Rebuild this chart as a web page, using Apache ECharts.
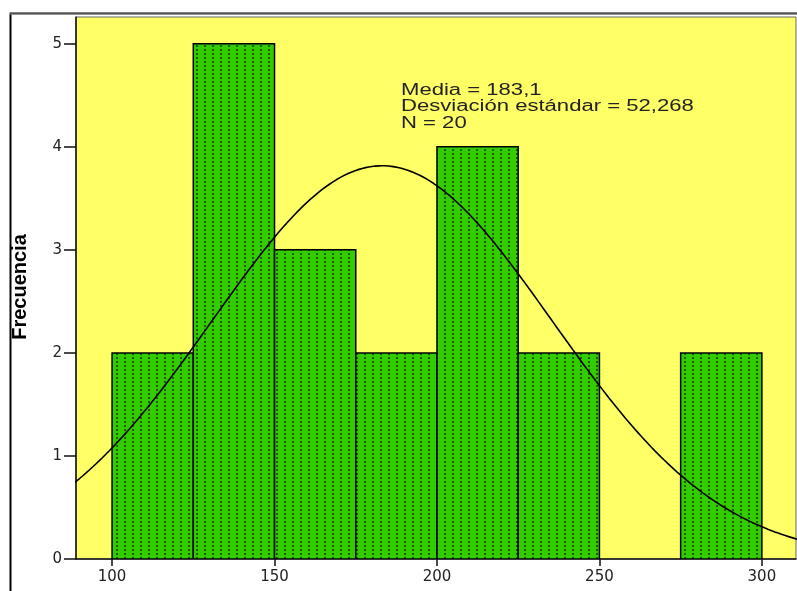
<!DOCTYPE html>
<html>
<head>
<meta charset="utf-8">
<script src="https://cdn.jsdelivr.net/npm/echarts@6/dist/echarts.min.js"></script>
<style>
  html, body { margin: 0; padding: 0; background: #ffffff; }
  #chart { width: 797px; height: 591px; }
</style>
</head>
<body>
<div id="chart"></div>
<script>
// Histogram bins (lower edges, width 25) and their frequencies
const binStarts = [100, 125, 150, 175, 200, 225, 250, 275];
const binWidth = 25;
const counts = [2, 5, 3, 2, 4, 2, 0, 2];

// Summary statistics shown in the annotation
const mean = 183.1;
const stdDev = 52.268;
const n = 20;

const xTicks = [100, 150, 200, 250, 300];
const yTicks = [0, 1, 2, 3, 4, 5];

// Dotted green fill pattern
function makePattern() {
  const c = document.createElement('canvas');
  c.width = 8; c.height = 4;
  const ctx = c.getContext('2d');
  ctx.fillStyle = '#33cc00';
  ctx.fillRect(0, 0, 8, 4);
  ctx.fillStyle = '#1d5f0a';
  ctx.fillRect(4, 1, 2, 2);
  return c;
}
const pattern = { image: makePattern(), repeat: 'repeat' };

// Fitted normal curve scaled to counts: N * binWidth * pdf(x)
const curve = [];
for (let x = 80; x <= 320; x += 1) {
  const z = (x - mean) / stdDev;
  const y = n * binWidth * Math.exp(-0.5 * z * z) / (stdDev * Math.sqrt(2 * Math.PI));
  curve.push([x, y]);
}

const bars = binStarts.map((s, i) => [s, s + binWidth, counts[i]]);

const tickFont = 'DejaVu Sans, Verdana, sans-serif';

const chart = echarts.init(document.getElementById('chart'), null, { renderer: 'canvas' });
chart.setOption({
  animation: false,
  backgroundColor: '#ffffff',
  grid: {
    left: 76, top: 17, right: 1, bottom: 32,
    show: true, backgroundColor: '#ffff66', borderColor: '#666', borderWidth: 1
  },
  xAxis: {
    type: 'value', min: 88.9, max: 310.5,
    splitLine: { show: false },
    axisLine: { onZero: false, lineStyle: { color: '#111', width: 1.5 } },
    axisTick: { show: true, length: 7, customValues: xTicks, lineStyle: { color: '#111', width: 1.5 } },
    axisLabel: { customValues: xTicks, color: '#222', fontSize: 15, fontFamily: tickFont, margin: 11 }
  },
  yAxis: {
    type: 'value', min: 0, max: 5.26,
    splitLine: { show: false },
    axisLine: { show: true, lineStyle: { color: '#111', width: 1.5 } },
    axisTick: { show: true, length: 12, customValues: yTicks, lineStyle: { color: '#111', width: 1.5 } },
    axisLabel: { customValues: yTicks, color: '#222', fontSize: 15, fontFamily: tickFont, margin: 14 }
  },
  series: [
    {
      type: 'custom',
      data: bars,
      clip: true,
      renderItem: function (params, api) {
        if (api.value(2) <= 0) return null;
        const p0 = api.coord([api.value(0), api.value(2)]);
        const p1 = api.coord([api.value(1), 0]);
        return {
          type: 'rect',
          shape: { x: p0[0], y: p0[1], width: p1[0] - p0[0], height: p1[1] - p0[1] },
          style: { fill: pattern, stroke: '#000', lineWidth: 1.5 }
        };
      }
    },
    {
      type: 'line',
      data: curve,
      showSymbol: false,
      smooth: false,
      clip: true,
      lineStyle: { color: '#000', width: 1.6 },
      z: 5
    }
  ],
  graphic: [
    {
      type: 'rect', left: 8, top: 11, silent: true,
      shape: { width: 830, height: 620 },
      style: { fill: 'none', stroke: '#000', lineWidth: 2 }
    },
    {
      type: 'line', silent: true,
      shape: { x1: 9, y1: 14, x2: 797, y2: 14 },
      style: { stroke: '#aaa', lineWidth: 1 }
    },
    {
      // Axis title, rotated to read bottom-to-top
      type: 'text', x: 20, y: 287, rotation: Math.PI / 2, z: 10,
      style: {
        text: 'Frecuencia',
        font: 'bold 20px "Liberation Sans Narrow", "Liberation Sans", Arial, sans-serif',
        fill: '#000', align: 'center', verticalAlign: 'middle'
      }
    },
    {
      type: 'text', x: 401, y: 82, scaleX: 1.38, z: 10,
      style: {
        text: 'Media = ' + String(mean).replace('.', ',') + '\nDesviación estándar = ' + String(stdDev).replace('.', ',') + '\nN = ' + n,
        font: '16px "Liberation Sans", Arial, sans-serif',
        lineHeight: 16.5,
        fill: '#222'
      }
    }
  ]
});
</script>
</body>
</html>
